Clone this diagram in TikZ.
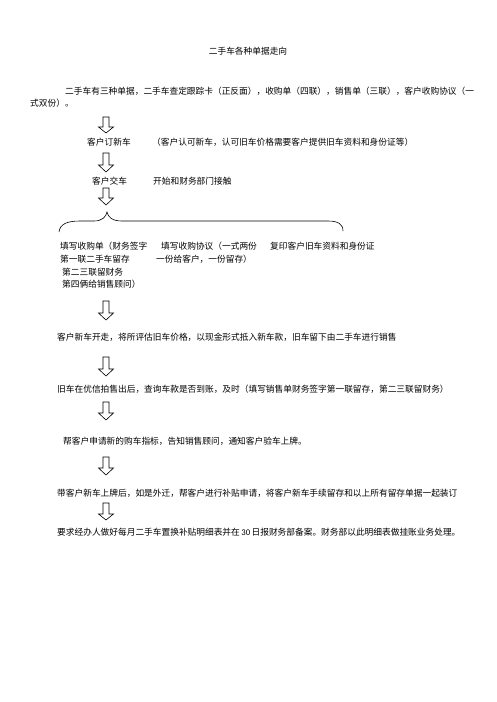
\documentclass[tikz,border=0pt]{standalone}
\usepackage{fontspec}
\setmainfont{Liberation Serif}
\newfontfamily\cjk{Noto Sans CJK SC}
\begin{document}
\begin{tikzpicture}[x=1pt,y=-1pt,
  txt/.style={anchor=west,inner sep=0pt,font=\cjk\fontsize{8.7}{10}\selectfont},
  blk/.style={draw,line width=0.6pt,line join=miter}]
\useasboundingbox[fill=white] (0,0) rectangle (496,702);
\newcommand\blkarrow[4][106]{%
  \draw[blk] (#1-3,#2) -- (#1+3,#2) -- (#1+3,#3) -- (#1+7.5,#3) -- (#1,#4) -- (#1-7.5,#3) -- (#1-3,#3) -- cycle;}
% title
\node[txt,anchor=center] (title) at (248,51) {二手车各种单据走向};
% intro paragraph
\node[txt] (intro1) at (65,91) {二手车有三种单据，二手车查定跟踪卡（正反面），收购单（四联），销售单（三联），客户收购协议（一};
\node[txt] (intro2) at (30,103) {式双份）。};
% arrows and steps
\blkarrow{117}{127}{133}
\node[txt] (s1) at (87,142) {客户订新车};
\node[txt] (s1n) at (152,142) {（客户认可新车，认可旧车价格需要客户提供旧车资料和身份证等）};
\blkarrow{153}{165}{172}
\node[txt] (s2) at (92,181) {客户交车};
\node[txt] (s2n) at (153,181) {开始和财务部门接触};
\blkarrow{188}{198}{205}
% brace
\draw[line width=0.6pt] (59,232) .. controls (60,224) and (67,221) .. (80,221) -- (94,221)
  .. controls (102,221) and (106,217) .. (107,212)
  .. controls (108,217) and (112,221) .. (122,221) -- (328,221)
  .. controls (338,221) and (343,224) .. (343,231);
\node[txt] (a1) at (60,246) {填写收购单（财务签字};
\node[txt] (a2) at (60,259) {第一联二手车留存};
\node[txt] (a3) at (62,272) {第二三联留财务};
\node[txt] (a4) at (62,284) {第四俩给销售顾问）};
\node[txt] (b1) at (161,246) {填写收购协议（一式两份};
\node[txt] (b2) at (156,259) {一份给客户，一份留存）};
\node[txt] (c1) at (270,246) {复印客户旧车资料和身份证};
\blkarrow{301}{313}{320}
\node[txt] (s3) at (57,337) {客户新车开走，将所评估旧车价格，以现金形式抵入新车款，旧车留下由二手车进行销售};
\blkarrow{357}{369}{376}
\node[txt] (s4) at (57,389) {旧车在优信拍售出后，查询车款是否到账，及时（填写销售单财务签字第一联留存，第二三联留财务）};
\blkarrow{402}{413}{420}
\node[txt] (s5) at (63,441) {帮客户申请新的购车指标，告知销售顾问，通知客户验车上牌。};
\blkarrow{457}{468}{475}
\node[txt] (s6) at (57,493) {带客户新车上牌后，如是外迁，帮客户进行补贴申请，将客户新车手续留存和以上所有留存单据一起装订};
\blkarrow{503}{514}{520}
\node[txt] (s7) at (57,532) {要求经办人做好每月二手车置换补贴明细表并在\,{\fontfamily{}\fontspec{Carlito}30}\,日报财务部备案。财务部以此明细表做挂账业务处理。};
\end{tikzpicture}
\end{document}
